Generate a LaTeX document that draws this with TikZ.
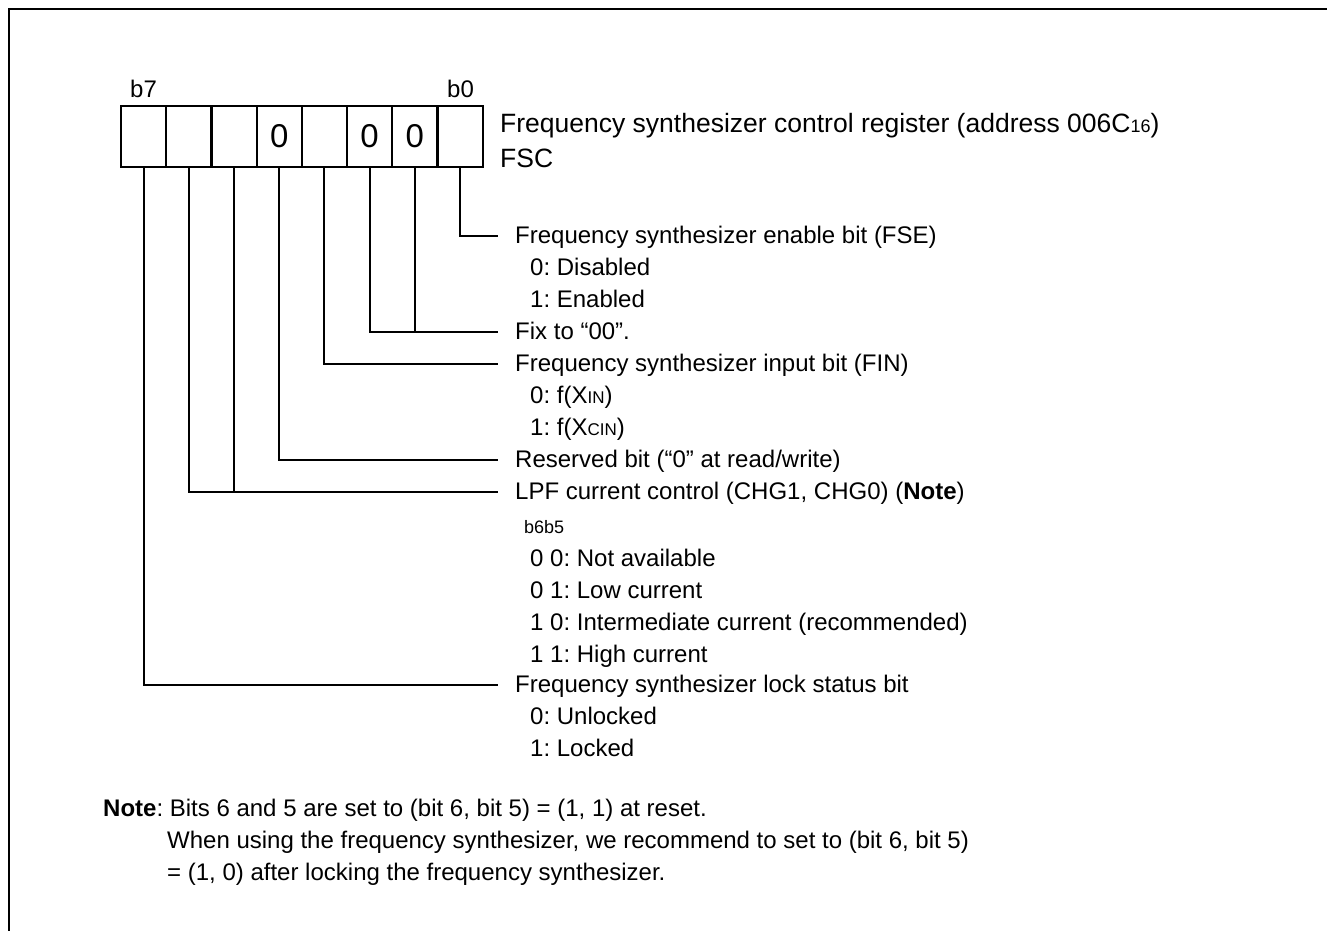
\documentclass[tikz,border=0pt]{standalone}
\usepackage{fontspec}
\setmainfont{Liberation Sans}
\frenchspacing
\newcommand{\smallsub}[1]{{\fontsize{17}{17}\selectfont #1}}
\begin{document}
\frenchspacing
\begin{tikzpicture}[x=1pt,y=-1pt,
  bitbox/.style={draw, line width=2.2pt, minimum width=45.2pt, minimum height=61pt, inner sep=0pt, font=\fontsize{33}{33}\selectfont},
  lbl/.style={anchor=base west, inner sep=0pt, font=\fontsize{24}{24}\selectfont},
  sub/.style={anchor=base west, inner sep=0pt, font=\fontsize{24}{24}\selectfont},
  tiny/.style={anchor=base west, inner sep=0pt, font=\fontsize{18}{18}\selectfont},
  conn/.style={line width=2pt},
  frame/.style={line width=2.5pt}]
\useasboundingbox (0,0) rectangle (1327,931);
\draw[frame] (9,931) -- (9,9) -- (1330,9);

% register boxes
\node[bitbox] (b7) at (143.6,136.5) {};
\node[bitbox] (b6) at (188.8,136.5) {};
\node[bitbox] (b5) at (234.0,136.5) {};
\node[bitbox] (b4) at (279.2,136.5) {0};
\node[bitbox] (b3) at (324.4,136.5) {};
\node[bitbox] (b2) at (369.6,136.5) {0};
\node[bitbox] (b1) at (414.8,136.5) {0};
\node[bitbox] (b0) at (460.0,136.5) {};
\node[lbl] (t7) at (130,98) {b7};
\node[lbl] (t0) at (447,98) {b0};

\node[anchor=base west, inner sep=0pt, font=\fontsize{26.5}{26.5}\selectfont] (title) at (500,132.5) {Frequency synthesizer control register (address 006C{\fontsize{18}{18}\selectfont 16})};
\node[anchor=base west, inner sep=0pt, font=\fontsize{26.5}{26.5}\selectfont] (fsc) at (500,167) {FSC};

% line end coordinates
\coordinate (e0) at (498,235.5);
\coordinate (e12) at (498,331.8);
\coordinate (e3) at (498,363.9);
\coordinate (e4) at (498,460.2);
\coordinate (e56) at (498,492.3);
\coordinate (e7) at (498,685);

% connectors
\draw[conn] (b0.south) |- (e0);
\draw[conn] (b2.south) |- (e12);
\draw[conn] (b1.south) -- (b1.south |- e12);
\draw[conn] (b3.south) |- (e3);
\draw[conn] (b4.south) |- (e4);
\draw[conn] (b6.south) |- (e56);
\draw[conn] (b5.south) -- (b5.south |- e56);
\draw[conn] (b7.south) |- (e7);

% labels
\node[lbl] (l0) at (515,243) {Frequency synthesizer enable bit (FSE)};
\node[sub] (l0a) at (530,275.1) {0: Disabled};
\node[sub] (l0b) at (530,307.2) {1: Enabled};
\node[lbl] (l12) at (515,339.3) {Fix to “00”.};
\node[lbl] (l3) at (515,371.4) {Frequency synthesizer input bit (FIN)};
\node[sub] (l3a) at (530,403.5) {0: f(X\smallsub{IN})};
\node[sub] (l3b) at (530,435.6) {1: f(X\smallsub{CIN})};
\node[lbl] (l4) at (515,467.7) {Reserved bit (“0” at read/write)};
\node[lbl] (l56) at (515,499.8) {LPF current control (CHG1, CHG0) (\textbf{Note})};
\node[tiny] (l56h) at (524,533) {b6b5};
\node[sub] (l56a) at (530,566) {0 0: Not available};
\node[sub] (l56b) at (530,598) {0 1: Low current};
\node[sub] (l56c) at (530,630) {1 0: Intermediate current (recommended)};
\node[sub] (l56d) at (530,662) {1 1: High current};
\node[lbl] (l7) at (515,692.5) {Frequency synthesizer lock status bit};
\node[sub] (l7a) at (530,724.6) {0: Unlocked};
\node[sub] (l7b) at (530,756.7) {1: Locked};

% note
\node[lbl] (n1) at (103,816) {\textbf{Note}: Bits 6 and 5 are set to (bit 6, bit 5) = (1, 1) at reset.};
\node[lbl] (n2) at (167,848) {When using the frequency synthesizer, we recommend to set to (bit 6, bit 5)};
\node[lbl] (n3) at (167,880) {= (1, 0) after locking the frequency synthesizer.};
\end{tikzpicture}
\end{document}
